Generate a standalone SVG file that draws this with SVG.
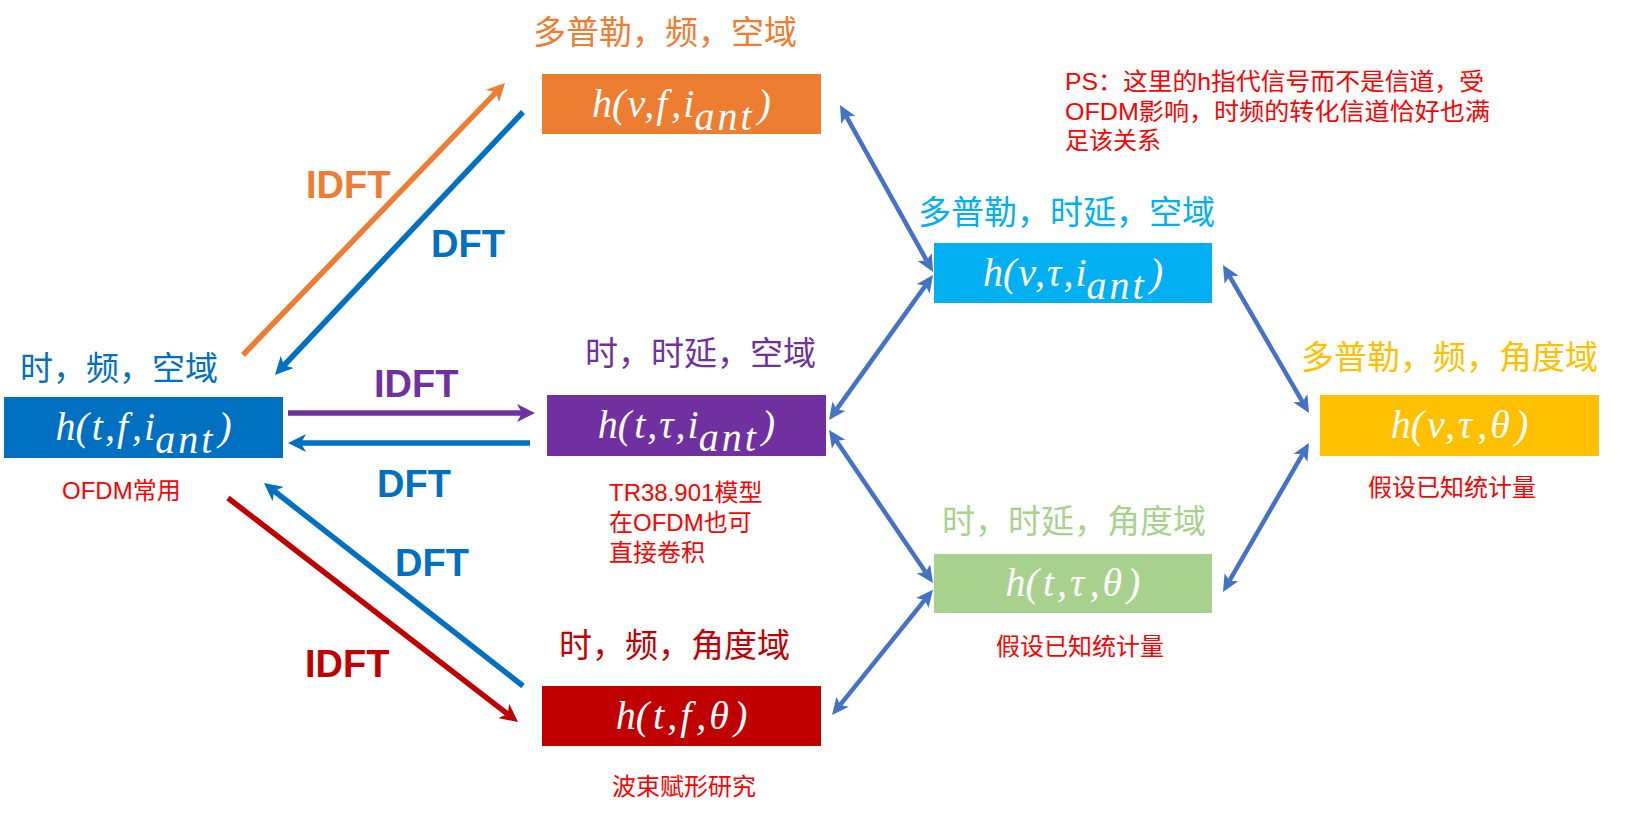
<svg xmlns="http://www.w3.org/2000/svg" width="1632" height="814" viewBox="0 0 1632 814">
<style>
  .fm { font-family: "Liberation Serif", "DejaVu Serif", serif; font-style: italic; font-size: 40px; fill: #FFFFFF; text-anchor: middle; }
  .sub { letter-spacing: 3px; }
  .ttl { font-family: "Noto Sans CJK SC", "Noto Sans", sans-serif; font-size: 33px; }
  .note { font-family: "Liberation Sans", "Noto Sans CJK SC", sans-serif; font-size: 24px; fill: #FF0000; }
  .lbl { font-family: "Liberation Sans", Arial, sans-serif; font-weight: bold; font-size: 38px; }
  .tr { fill: none; stroke-width: 5.5; }
  .dbl { fill: none; stroke: #4472C4; stroke-width: 4.5; marker-start: url(#ah-dbl); marker-end: url(#ah-dbl); }
</style>
<defs>
  <marker id="ah-orange" viewBox="0 0 18 18" refX="5" refY="9" markerWidth="18" markerHeight="18" markerUnits="userSpaceOnUse" orient="auto"><path d="M0,0 L18,9 L0,18 L5,9 Z" fill="#ED7D31"/></marker>
  <marker id="ah-blue" viewBox="0 0 18 18" refX="5" refY="9" markerWidth="18" markerHeight="18" markerUnits="userSpaceOnUse" orient="auto"><path d="M0,0 L18,9 L0,18 L5,9 Z" fill="#0070C0"/></marker>
  <marker id="ah-purple" viewBox="0 0 18 18" refX="5" refY="9" markerWidth="18" markerHeight="18" markerUnits="userSpaceOnUse" orient="auto"><path d="M0,0 L18,9 L0,18 L5,9 Z" fill="#7030A0"/></marker>
  <marker id="ah-red" viewBox="0 0 18 18" refX="5" refY="9" markerWidth="18" markerHeight="18" markerUnits="userSpaceOnUse" orient="auto"><path d="M0,0 L18,9 L0,18 L5,9 Z" fill="#C00000"/></marker>
  <marker id="ah-dbl" viewBox="0 0 17 16" refX="4" refY="8" markerWidth="17" markerHeight="16" markerUnits="userSpaceOnUse" orient="auto-start-reverse"><path d="M0,0 L17,8 L0,16 L4,8 Z" fill="#4472C4"/></marker>
</defs>
<rect width="1632" height="814" fill="#FFFFFF"/>

<g id="connectors">
  <line class="tr" stroke="#ED7D31" x1="243" y1="355" x2="496" y2="92.4" marker-end="url(#ah-orange)"/>
  <line class="tr" stroke="#0070C0" x1="523" y1="112" x2="283.9" y2="365.5" marker-end="url(#ah-blue)"/>
  <line class="tr" stroke="#7030A0" x1="288" y1="413" x2="522" y2="413" marker-end="url(#ah-purple)"/>
  <line class="tr" stroke="#0070C0" x1="530" y1="443" x2="301" y2="443" marker-end="url(#ah-blue)"/>
  <line class="tr" stroke="#0070C0" x1="523" y1="686" x2="274.2" y2="491" marker-end="url(#ah-blue)"/>
  <line class="tr" stroke="#C00000" x1="228" y1="498" x2="507.7" y2="714.1" marker-end="url(#ah-red)"/>

  <line class="dbl" x1="846.3" y1="116.4" x2="926.7" y2="260.6"/>
  <line class="dbl" x1="925.4" y1="285.6" x2="836.6" y2="409.4"/>
  <line class="dbl" x1="1229.5" y1="276.2" x2="1302.5" y2="401.8"/>
  <line class="dbl" x1="836.3" y1="440.8" x2="925.7" y2="572.2"/>
  <line class="dbl" x1="840.2" y1="704.9" x2="924.8" y2="599.9"/>
  <line class="dbl" x1="1229.5" y1="580.7" x2="1302.5" y2="454.3"/>

  <text class="lbl" fill="#ED7D31" x="306" y="198">IDFT</text>
  <text class="lbl" fill="#0070C0" x="431" y="257">DFT</text>
  <text class="lbl" fill="#7030A0" x="374" y="397">IDFT</text>
  <text class="lbl" fill="#0070C0" x="377" y="497">DFT</text>
  <text class="lbl" fill="#0070C0" x="395" y="576">DFT</text>
  <text class="lbl" fill="#C00000" x="305" y="677">IDFT</text>
</g>

<g id="node-tf-ant">
  <text class="ttl" fill="#0070C0" x="20" y="380">时，频，空域</text>
  <rect x="4" y="397" width="279" height="61" fill="#0070C0"/>
  <text class="fm" x="143.5" y="440">h(<tspan dx="3">t</tspan><tspan dx="2">,</tspan><tspan dx="2">f</tspan><tspan dx="4">,</tspan><tspan dx="2">i</tspan><tspan class="sub" dy="13">ant</tspan><tspan dx="3" dy="-13">)</tspan></text>
  <text class="note" x="62" y="499">OFDM常用</text>
</g>

<g id="node-vf-ant">
  <text class="ttl" fill="#ED7D31" x="533" y="44">多普勒，频，空域</text>
  <rect x="542" y="74" width="279" height="60" fill="#ED7D31"/>
  <text class="fm" x="681.5" y="117">h(<tspan dx="2">v</tspan><tspan dx="2">,</tspan><tspan dx="2">f</tspan><tspan dx="4">,</tspan><tspan dx="2">i</tspan><tspan class="sub" dy="13">ant</tspan><tspan dx="3" dy="-13">)</tspan></text>
</g>

<g id="node-ttau-ant">
  <text class="ttl" fill="#7030A0" x="585" y="365">时，时延，空域</text>
  <rect x="547" y="395" width="279" height="61" fill="#7030A0"/>
  <text class="fm" x="686.5" y="438">h(<tspan dx="3">t</tspan><tspan dx="2">,</tspan><tspan dx="2">τ</tspan><tspan dx="2">,</tspan><tspan dx="2">i</tspan><tspan class="sub" dy="13">ant</tspan><tspan dx="3" dy="-13">)</tspan></text>
  <text class="note" x="609" y="501">TR38.901模型</text>
  <text class="note" x="609" y="531">在OFDM也可</text>
  <text class="note" x="609" y="561">直接卷积</text>
</g>

<g id="node-tf-theta">
  <text class="ttl" fill="#C00000" x="559" y="657">时，频，角度域</text>
  <rect x="542" y="686" width="279" height="60" fill="#C00000"/>
  <text class="fm" x="681.5" y="729">h(<tspan dx="4">t</tspan><tspan dx="3">,</tspan><tspan dx="3">f</tspan><tspan dx="5">,</tspan><tspan dx="3">θ</tspan><tspan dx="5">)</tspan></text>
  <text class="note" x="612" y="795">波束赋形研究</text>
</g>

<g id="node-vtau-ant">
  <text class="ttl" fill="#00B0F0" x="918" y="224">多普勒，时延，空域</text>
  <rect x="934" y="243" width="278" height="60" fill="#00B0F0"/>
  <text class="fm" x="1073" y="286">h(<tspan dx="2">v</tspan><tspan dx="2">,</tspan><tspan dx="2">τ</tspan><tspan dx="2">,</tspan><tspan dx="2">i</tspan><tspan class="sub" dy="13">ant</tspan><tspan dx="3" dy="-13">)</tspan></text>
</g>

<g id="node-ttau-theta">
  <text class="ttl" fill="#A9D18E" x="942" y="533">时，时延，角度域</text>
  <rect x="934" y="554" width="278" height="59" fill="#A9D18E"/>
  <text class="fm" x="1073" y="596">h(<tspan dx="4">t</tspan><tspan dx="3">,</tspan><tspan dx="3">τ</tspan><tspan dx="5">,</tspan><tspan dx="3">θ</tspan><tspan dx="5">)</tspan></text>
  <text class="note" x="996" y="655">假设已知统计量</text>
</g>

<g id="node-vtau-theta">
  <text class="ttl" fill="#FFC000" x="1301" y="369">多普勒，频，角度域</text>
  <rect x="1320" y="395" width="279" height="61" fill="#FFC000"/>
  <text class="fm" x="1459.5" y="438">h(<tspan dx="3">v</tspan><tspan dx="3">,</tspan><tspan dx="3">τ</tspan><tspan dx="5">,</tspan><tspan dx="3">θ</tspan><tspan dx="5">)</tspan></text>
  <text class="note" x="1368" y="496">假设已知统计量</text>
</g>

<g id="ps-note">
  <text class="note" x="1065" y="90" textLength="419" lengthAdjust="spacingAndGlyphs">PS：这里的h指代信号而不是信道，受</text>
  <text class="note" x="1065" y="120" textLength="425" lengthAdjust="spacingAndGlyphs">OFDM影响，时频的转化信道恰好也满</text>
  <text class="note" x="1065" y="149">足该关系</text>
</g>
</svg>
